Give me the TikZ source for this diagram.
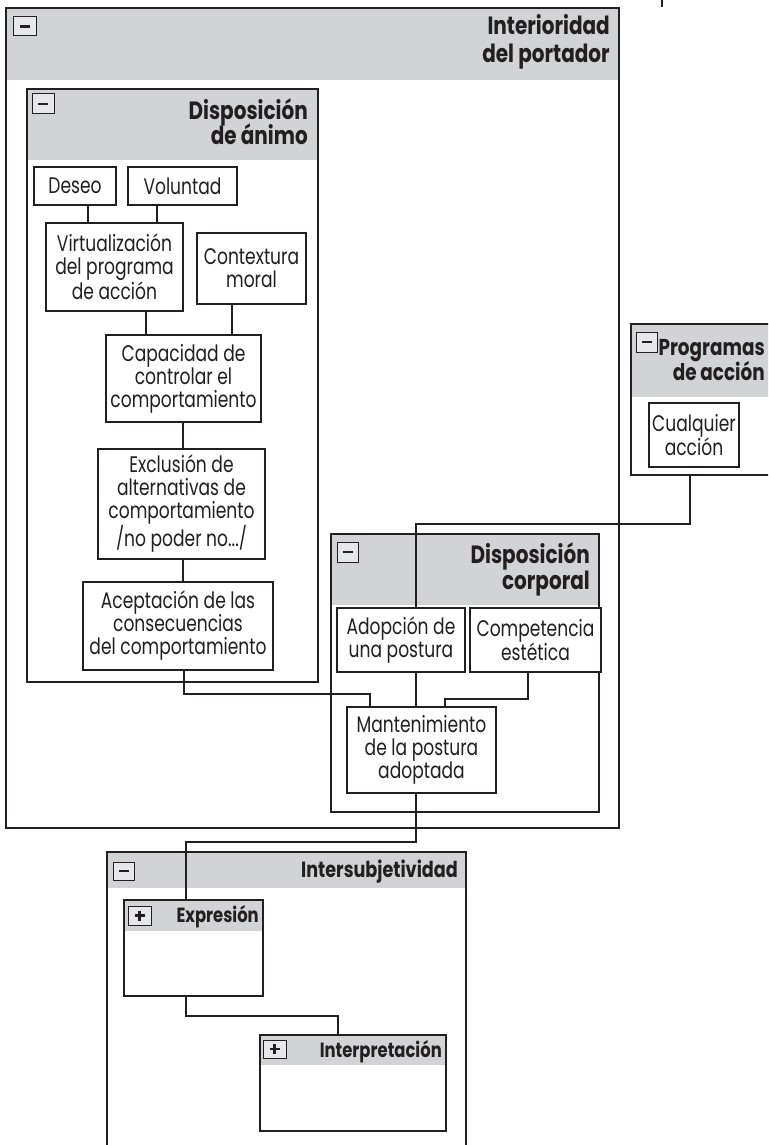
\documentclass[tikz,border=0pt]{standalone}
\usepackage{fontspec}
\setmainfont{Poppins}[FakeStretch=0.76]
\newfontfamily\ttlfont{Poppins}[FakeStretch=0.80]
\definecolor{ln}{HTML}{231F20}
\definecolor{hdr}{HTML}{D1D3D4}
\definecolor{btnf}{HTML}{E6E7E8}
\newcommand\boxat[6]{\node[#1, minimum width={#4-#2}, minimum height={#5-#3}] (#6) at ({(#2+#4)/2},{(#3+#5)/2})}
\tikzset{
  txtbox/.style={draw=ln, line width=1.1pt, fill=white, align=center, inner sep=0pt, text=ln, font=\fontsize{22.5}{23}\selectfont},
  cont/.style={draw=ln, line width=1.4pt, inner sep=0pt},
  outerbox/.style={draw=ln, line width=2.8pt, inner sep=0pt},
  btn/.style={draw=ln, line width=1pt, fill=btnf, inner sep=0pt},
  glyph/.style={draw=ln, line width=2.2pt},
  conn/.style={draw=ln, line width=1.1pt},
  ttlbig/.style={inner sep=0pt, text=ln, font=\ttlfont\fontsize{25}{27}\bfseries\selectfont},
  ttlpa/.style={inner sep=0pt, text=ln, font=\ttlfont\fontsize{23}{25}\bfseries\selectfont},
  ttlmid/.style={inner sep=0pt, text=ln, font=\ttlfont\fontsize{22}{24}\bfseries\selectfont},
  ttlsmall/.style={inner sep=0pt, text=ln, font=\ttlfont\fontsize{20.5}{22}\bfseries\selectfont},
}
\begin{document}
\begin{tikzpicture}[x=1pt,y=-1pt]
\useasboundingbox (0,0) rectangle (768,1145);
\clip (0,0) rectangle (768,1145);
\fill[white] (0,0) rectangle (768,1145);
% stray line at top
\coordinate (topA) at (662,-3);
\coordinate (topB) at (662,7);
\draw[ln, line width=2pt] (topA) -- (topB);
% outer container
\fill[hdr] (6,8) rectangle (619,80);
\boxat{outerbox}{6}{8}{619}{828}{int} {};
\node[ttlbig, anchor=base east] (intA) at (610,35) {Interioridad};
\node[ttlbig, anchor=base east] (intB) at (610,63) {del portador};
% disposicion de animo
\fill[hdr] (27,89) rectangle (318,160);
\boxat{cont}{27}{89}{318}{682}{da} {};
\node[ttlbig, anchor=base east] (daA) at (308,120) {Disposición};
\node[ttlbig, anchor=base east] (daB) at (308,144) {de ánimo};
% disposicion corporal
\fill[hdr] (331,534) rectangle (599,605);
\boxat{cont}{331}{534}{599}{812}{dc} {};
\node[ttlbig, anchor=base east] (dcA) at (590,563) {Disposición};
\node[ttlbig, anchor=base east] (dcB) at (590,589) {corporal};
% programas de accion
\fill[hdr] (631,324) rectangle (775,397);
\boxat{cont}{631}{324}{775}{475}{pa} {};
\node[ttlpa, anchor=base east] (paA) at (765,355) {Programas};
\node[ttlpa, anchor=base east] (paB) at (765,380) {de acción};
% intersubjetividad
\fill[hdr] (107,852) rectangle (466,888);
\boxat{cont}{107}{852}{466}{1160}{is} {};
\node[ttlmid, anchor=base east] (isA) at (458,877) {Intersubjetividad};
% expresion
\fill[hdr] (124,900) rectangle (263,931);
\boxat{cont}{124}{900}{263}{996}{expr} {};
\node[ttlsmall, anchor=base east] (exA) at (259,922) {Expresión};
% interpretacion
\fill[hdr] (260,1035) rectangle (446,1065);
\boxat{cont}{260}{1035}{446}{1131}{interp} {};
\node[ttlsmall, anchor=base east] (inA) at (442,1057) {Interpretación};
% text boxes
\boxat{txtbox}{34}{167}{116}{205}{deseo} {Deseo};
\boxat{txtbox}{128}{167}{237}{205}{vol} {Voluntad};
\boxat{txtbox}{46}{223}{183}{311}{virt} {Virtualización\\del programa\\de acción};
\boxat{txtbox}{197}{233}{306}{304}{ctx} {Contextura\\moral};
\boxat{txtbox}{106}{335}{261}{422}{cap} {Capacidad de\\controlar el\\comportamiento};
\boxat{txtbox}{98}{449}{265}{559}{excl} {Exclusión de\\alternativas de\\comportamiento\\/no poder no.../};
\boxat{txtbox}{83}{582}{273}{670}{acep} {Aceptación de las\\consecuencias\\del comportamiento};
\boxat{txtbox}{337}{608}{465}{672}{adop} {Adopción de\\una postura};
\boxat{txtbox}{470}{608}{601}{672}{comp} {Competencia\\estética};
\boxat{txtbox}{347}{707}{496}{793}{mant} {Mantenimiento\\de la postura\\adoptada};
\boxat{txtbox}{649}{403}{739}{467}{cual} {Cualquier\\acción};
% connectors
\draw[conn] (deseo.south -| 88,0) -- (virt.north -| 88,0);
\draw[conn] (vol.south -| 157,0) -- (virt.north -| 157,0);
\draw[conn] (virt.south -| 146,0) -- (cap.north -| 146,0);
\draw[conn] (ctx.south -| 232,0) -- (cap.north -| 232,0);
\draw[conn] (cap.south -| 183,0) -- (excl.north -| 183,0);
\draw[conn] (excl.south -| 183,0) -- (acep.north -| 183,0);
\draw[conn] (acep.south -| 184,0) |- (370,694) -- (mant.north -| 370,0);
\draw[conn] (pa.south -| 690,0) |- (416,524) -- (adop.north -| 416,0);
\draw[conn] (adop.south -| 416,0) -- (mant.north -| 416,0);
\draw[conn] (comp.south -| 528,0) |- (445,699) -- (mant.north -| 445,0);
\draw[conn] (mant.south -| 416,0) |- (186,842) -- (expr.north -| 186,0);
\draw[conn] (expr.south -| 186,0) |- (338,1016) -- (interp.north -| 338,0);
% buttons
\boxat{btn}{13}{17}{36}{36}{bint} {};
\draw[glyph] (bint.center) ++(-5,0) -- ++(10,0);
\boxat{btn}{32}{94}{54}{114}{bda} {};
\draw[glyph] (bda.center) ++(-5,0) -- ++(10,0);
\boxat{btn}{337}{542}{358}{562}{bdc} {};
\draw[glyph] (bdc.center) ++(-5,0) -- ++(10,0);
\boxat{btn}{636}{332}{657}{352}{bpa} {};
\draw[glyph] (bpa.center) ++(-5,0) -- ++(10,0);
\boxat{btn}{113}{862}{134}{880}{bis} {};
\draw[glyph] (bis.center) ++(-5,0) -- ++(10,0);
\boxat{btn}{128}{906}{151}{925}{bex} {};
\draw[glyph] (bex.center) ++(-5,0) -- ++(10,0);
\draw[glyph] (bex.center) ++(0,-5) -- ++(0,10);
\boxat{btn}{263}{1040}{286}{1058}{bin} {};
\draw[glyph] (bin.center) ++(-5,0) -- ++(10,0);
\draw[glyph] (bin.center) ++(0,-5) -- ++(0,10);
\end{tikzpicture}
\end{document}
